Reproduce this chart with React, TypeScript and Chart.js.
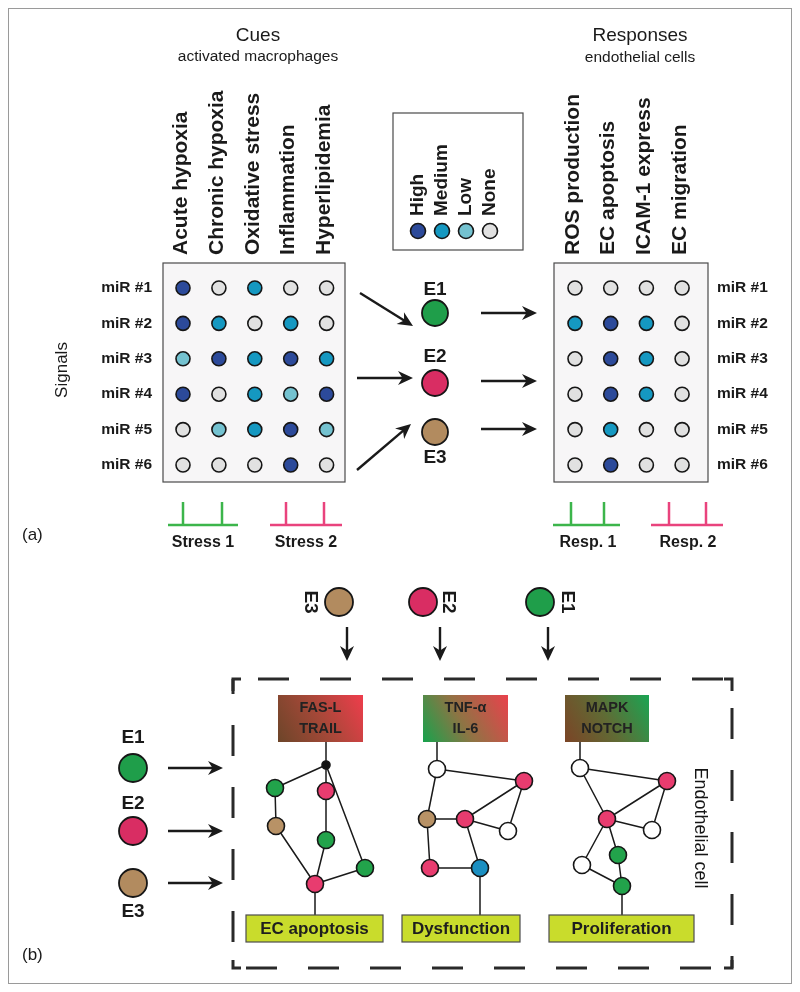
import React, { useEffect, useRef } from "react";
import { Chart, registerables } from "chart.js";

Chart.register(...registerables);

// ---------------- DATA ----------------
const cueLabels = ["Acute hypoxia", "Chronic hypoxia", "Oxidative stress", "Inflammation", "Hyperlipidemia"];
const responseLabels = ["ROS production", "EC apoptosis", "ICAM-1 express", "EC migration"];
const mirLabels = ["miR #1", "miR #2", "miR #3", "miR #4", "miR #5", "miR #6"];
const levelNames = ["High", "Medium", "Low", "None"];
const levelCodes = ["H", "M", "L", "N"];
// one string per miR row, one letter per column (H High, M Medium, L Low, N None)
const cueLevels = ["HNMNN", "HMNMN", "LHMHM", "HNMLH", "NLMHL", "NNNHN"];
const responseLevels = ["NNNN", "MHMN", "NHMN", "NHMN", "NMNN", "NHNN"];
const effectors = ["E1", "E2", "E3"];
const topEffectorOrder = ["E3", "E2", "E1"];
const stressGroups = ["Stress 1", "Stress 2"];
const responseGroups = ["Resp. 1", "Resp. 2"];
const pathwayLabels = [["FAS-L", "TRAIL"], ["TNF-α", "IL-6"], ["MAPK", "NOTCH"]];
const outcomeLabels = ["EC apoptosis", "Dysfunction", "Proliferation"];
// node kinds inside each network (E1/E2/E3 effector, w unaffected, k junction, b other)
const networkKinds = [
  ["k", "E1", "E2", "E3", "E1", "E1", "E2"],
  ["w", "E2", "E3", "E2", "w", "E2", "b"],
  ["w", "E2", "E2", "w", "E1", "w", "E1"],
];
const networkEdges = [
  [[0, 1], [0, 2], [0, 5], [1, 3], [3, 6], [2, 4], [4, 6], [6, 5]],
  [[0, 1], [0, 2], [2, 3], [3, 1], [1, 4], [3, 4], [2, 5], [5, 6], [3, 6]],
  [[0, 1], [0, 2], [2, 1], [1, 3], [2, 3], [2, 4], [2, 5], [5, 6], [4, 6]],
];

// ---------------- STYLE / LAYOUT ----------------
const W = 800;
const H = 992;
const FONT = '"Liberation Sans", Arial, Helvetica, sans-serif';
const levelColors = ["#2c4a9a", "#1598c1", "#74c2d0", "#e1e1e1"];
const effectorColors: Record<string, string> = { E1: "#1f9e4a", E2: "#d92d63", E3: "#b28b5f" };
const nodeColors: Record<string, string> = { E1: "#22a34b", E2: "#e83c6f", E3: "#b89266", w: "#ffffff", k: "#111111", b: "#1b8fc1" };
const GREEN = "#3cb54b";
const PINK = "#e9437d";

const LAYOUT = {
  cueX0: 183, cueDx: 35.9,
  respX0: 575, respDx: 35.7,
  rowY0: 288, rowDy: 35.4,
  cueBox: [163, 263, 345, 482],
  respBox: [554, 263, 708, 482],
  headerY: 255,
  legendBox: [393, 113, 523, 250],
  legendX0: 418, legendDx: 24, legendY: 231, legendTextY: 216,
  effA: [[435, 313, 290], [435, 383, 357], [435, 432, 458]],
  arrowsInA: [[360, 293, 413, 326], [357, 378, 413, 378], [357, 470, 411, 424]],
  arrowsOutA: [[481, 313, 537, 313], [481, 381, 537, 381], [481, 429, 537, 429]],
  brackets: [
    [168, 238, [183, 222], 203],
    [270, 342, [286, 324], 306],
    [553, 620, [571, 604], 588],
    [651, 723, [669, 706], 688],
  ],
  bracketY: 525, bracketTop: 502, bracketTextY: 543,
  effTop: [[339, 602, 310, 347], [423, 602, 448, 440], [540, 602, 567, 548]],
  effLeft: [[133, 768, 738], [133, 831, 804], [133, 883, 912]],
  dashBox: [233, 679, 732, 968],
  pathBoxes: [[278, 695, 363, 742], [423, 695, 508, 742], [565, 695, 649, 742]],
  outBoxes: [[246, 915, 383, 942], [402, 915, 520, 942], [549, 915, 694, 942]],
  netNodes: [
    [[326, 765], [275, 788], [326, 791], [276, 826], [326, 840], [365, 868], [315, 884]],
    [[437, 769], [524, 781], [427, 819], [465, 819], [508, 831], [430, 868], [480, 868]],
    [[580, 768], [667, 781], [607, 819], [652, 830], [618, 855], [582, 865], [622, 886]],
  ],
  netTop: [0, 0, 0],
  netBottom: [6, 6, 6],
};

const lvl = (c: string) => levelCodes.indexOf(c);

function gridAxis(axis: "x" | "y", first: number, step: number, extent: number, reverse = false) {
  return {
    type: "linear" as const,
    axis,
    display: false,
    bounds: "data" as const,
    reverse,
    min: -first / step,
    max: (extent - first) / step,
  };
}

function drawText(
  ctx: CanvasRenderingContext2D, s: string, x: number, y: number,
  font: string, align: CanvasTextAlign = "center", rot = 0, color = "#1a1a1a", baseline: CanvasTextBaseline = "middle"
) {
  ctx.save();
  ctx.translate(x, y);
  if (rot) ctx.rotate(rot);
  ctx.font = font;
  ctx.fillStyle = color;
  ctx.textAlign = align;
  ctx.textBaseline = baseline;
  ctx.fillText(s, 0, 0);
  ctx.restore();
}

function arrow(ctx: CanvasRenderingContext2D, x1: number, y1: number, x2: number, y2: number, lw = 2.4, hl = 15, hw = 7) {
  const dx = x2 - x1, dy = y2 - y1;
  const len = Math.hypot(dx, dy);
  const ux = dx / len, uy = dy / len;
  const px = -uy, py = ux;
  ctx.save();
  ctx.strokeStyle = "#1a1a1a";
  ctx.fillStyle = "#1a1a1a";
  ctx.lineWidth = lw;
  ctx.beginPath();
  ctx.moveTo(x1, y1);
  ctx.lineTo(x2 - ux * hl * 0.6, y2 - uy * hl * 0.6);
  ctx.stroke();
  ctx.beginPath();
  ctx.moveTo(x2, y2);
  ctx.lineTo(x2 - ux * hl + px * hw, y2 - uy * hl + py * hw);
  ctx.lineTo(x2 - ux * hl * 0.7, y2 - uy * hl * 0.7);
  ctx.lineTo(x2 - ux * hl - px * hw, y2 - uy * hl - py * hw);
  ctx.closePath();
  ctx.fill();
  ctx.restore();
}

const diagramPlugin = {
  id: "diagram",
  beforeDatasetsDraw(chart: any) {
    const ctx: CanvasRenderingContext2D = chart.ctx;
    const X = (v: number) => chart.scales.x.getPixelForValue(v);
    const Y = (v: number) => chart.scales.y.getPixelForValue(v);
    const L = LAYOUT;
    ctx.save();

    // outer frame
    ctx.strokeStyle = "#9a9a9a";
    ctx.lineWidth = 1;
    ctx.strokeRect(X(8) + 0.5, Y(8) + 0.5, X(792) - X(8) - 1, Y(984) - Y(8) - 1);

    // matrix boxes
    for (const b of [L.cueBox, L.respBox]) {
      ctx.fillStyle = "#f7f6f7";
      ctx.fillRect(X(b[0]), Y(b[1]), X(b[2]) - X(b[0]), Y(b[3]) - Y(b[1]));
      ctx.strokeStyle = "#4a4a4a";
      ctx.lineWidth = 1.2;
      ctx.strokeRect(X(b[0]), Y(b[1]), X(b[2]) - X(b[0]), Y(b[3]) - Y(b[1]));
    }
    // legend box
    {
      const b = L.legendBox;
      ctx.fillStyle = "#ffffff";
      ctx.fillRect(X(b[0]), Y(b[1]), X(b[2]) - X(b[0]), Y(b[3]) - Y(b[1]));
      ctx.strokeStyle = "#4a4a4a";
      ctx.lineWidth = 1.2;
      ctx.strokeRect(X(b[0]), Y(b[1]), X(b[2]) - X(b[0]), Y(b[3]) - Y(b[1]));
    }

    // arrows part a
    for (const a of L.arrowsInA) arrow(ctx, X(a[0]), Y(a[1]), X(a[2]), Y(a[3]));
    for (const a of L.arrowsOutA) arrow(ctx, X(a[0]), Y(a[1]), X(a[2]), Y(a[3]));

    // brackets
    L.brackets.forEach((br: any, i: number) => {
      ctx.strokeStyle = i % 2 === 0 ? GREEN : PINK;
      ctx.lineWidth = 2.5;
      ctx.beginPath();
      ctx.moveTo(X(br[0]), Y(L.bracketY));
      ctx.lineTo(X(br[1]), Y(L.bracketY));
      for (const t of br[2]) {
        ctx.moveTo(X(t), Y(L.bracketY));
        ctx.lineTo(X(t), Y(L.bracketTop));
      }
      ctx.stroke();
    });

    // part b arrows
    for (const e of L.effTop) arrow(ctx, X(e[3]), Y(627), X(e[3]), Y(661));
    for (const e of L.effLeft) arrow(ctx, X(168), Y(e[1]), X(223), Y(e[1]));

    // dashed cell box
    {
      const [x0, y0, x1, y1] = L.dashBox;
      ctx.strokeStyle = "#2a2a2a";
      ctx.lineWidth = 3;
      const side = (ax: number, ay: number, bx: number, by: number, off: number) => {
        ctx.save();
        ctx.setLineDash([31, 31]);
        ctx.lineDashOffset = off;
        ctx.beginPath();
        ctx.moveTo(X(ax), Y(ay));
        ctx.lineTo(X(bx), Y(by));
        ctx.stroke();
        ctx.restore();
      };
      side(x0, y0, x1, y0, 37);
      side(x0, y0, x0, y1, 16);
      side(x1, y0, x1, y1, 33);
      side(x0, y1, x1, y1, 49);
      // corners
      ctx.beginPath();
      const c = 8;
      ctx.moveTo(X(x0 + c), Y(y0)); ctx.lineTo(X(x0), Y(y0)); ctx.lineTo(X(x0), Y(y0 + c + 4));
      ctx.moveTo(X(x1 - c), Y(y0)); ctx.lineTo(X(x1), Y(y0)); ctx.lineTo(X(x1), Y(y0 + c + 4));
      ctx.moveTo(X(x0), Y(y1 - c)); ctx.lineTo(X(x0), Y(y1)); ctx.lineTo(X(x0 + c), Y(y1));
      ctx.moveTo(X(x1), Y(y1 - c)); ctx.lineTo(X(x1), Y(y1)); ctx.lineTo(X(x1 - c), Y(y1));
      ctx.stroke();
    }

    // pathway gradient boxes
    const grads = [
      [[0, "#6c4529"], [0.5, "#a64838"], [1, "#ef3d4c"]],
      [[0, "#17a24c"], [0.45, "#8e7444"], [1, "#ea414c"]],
      [[0, "#7b4426"], [0.5, "#5f6c35"], [1, "#1aa553"]],
    ];
    L.pathBoxes.forEach((b: number[], i: number) => {
      const g = ctx.createLinearGradient(X(b[0]), Y(b[3]), X(b[2]), Y(b[1]));
      for (const [o, c] of grads[i] as any) g.addColorStop(o, c);
      ctx.fillStyle = g;
      ctx.fillRect(X(b[0]), Y(b[1]), X(b[2]) - X(b[0]), Y(b[3]) - Y(b[1]));
    });

    // network edges
    ctx.strokeStyle = "#1a1a1a";
    ctx.lineWidth = 1.5;
    L.netNodes.forEach((nodes: number[][], i: number) => {
      ctx.beginPath();
      for (const [a, b] of networkEdges[i]) {
        ctx.moveTo(X(nodes[a][0]), Y(nodes[a][1]));
        ctx.lineTo(X(nodes[b][0]), Y(nodes[b][1]));
      }
      const t = nodes[L.netTop[i]];
      ctx.moveTo(X(t[0]), Y(L.pathBoxes[i][3]));
      ctx.lineTo(X(t[0]), Y(t[1]));
      const bt = nodes[L.netBottom[i]];
      ctx.moveTo(X(bt[0]), Y(bt[1]));
      ctx.lineTo(X(bt[0]), Y(L.outBoxes[i][1]));
      ctx.stroke();
    });

    // outcome boxes
    L.outBoxes.forEach((b: number[]) => {
      ctx.fillStyle = "#c9dc2c";
      ctx.fillRect(X(b[0]), Y(b[1]), X(b[2]) - X(b[0]), Y(b[3]) - Y(b[1]));
      ctx.strokeStyle = "#4d4d4d";
      ctx.lineWidth = 1.2;
      ctx.strokeRect(X(b[0]), Y(b[1]), X(b[2]) - X(b[0]), Y(b[3]) - Y(b[1]));
    });

    ctx.restore();
  },
  afterDatasetsDraw(chart: any) {
    const ctx: CanvasRenderingContext2D = chart.ctx;
    const X = (v: number) => chart.scales.x.getPixelForValue(v);
    const Y = (v: number) => chart.scales.y.getPixelForValue(v);
    const xCue = chart.scales.xCue, xResp = chart.scales.xResp, yMir = chart.scales.yMir, xLeg = chart.scales.xLeg;
    const L = LAYOUT;
    const up = -Math.PI / 2;
    const down = Math.PI / 2;

    drawText(ctx, "Cues", X(258), Y(36), `19px ${FONT}`);
    drawText(ctx, "activated macrophages", X(258), Y(57), `15.5px ${FONT}`);
    drawText(ctx, "Responses", X(640), Y(36), `19px ${FONT}`);
    drawText(ctx, "endothelial cells", X(640), Y(58), `15.5px ${FONT}`);

    cueLabels.forEach((s, i) => drawText(ctx, s, xCue.getPixelForValue(i) - 2, Y(L.headerY), `bold 21px ${FONT}`, "left", up));
    responseLabels.forEach((s, i) => drawText(ctx, s, xResp.getPixelForValue(i) - 2, Y(L.headerY), `bold 21px ${FONT}`, "left", up));
    levelNames.forEach((s, i) => drawText(ctx, s, xLeg.getPixelForValue(i), Y(L.legendTextY), `bold 19px ${FONT}`, "left", up));

    mirLabels.forEach((s, r) => {
      drawText(ctx, s, X(152), yMir.getPixelForValue(r), `bold 15.5px ${FONT}`, "right");
      drawText(ctx, s, X(717), yMir.getPixelForValue(r), `bold 15.5px ${FONT}`, "left");
    });
    drawText(ctx, "Signals", X(62), Y(370), `17px ${FONT}`, "center", up);

    effectors.forEach((e, i) => drawText(ctx, e, X(L.effA[i][0]), Y(L.effA[i][2]), `bold 19px ${FONT}`));

    const groups = [...stressGroups, ...responseGroups];
    L.brackets.forEach((br: any, i: number) => drawText(ctx, groups[i], X(br[3]), Y(L.bracketTextY), `bold 16px ${FONT}`));

    drawText(ctx, "(a)", X(22), Y(535), `17px ${FONT}`, "left");
    drawText(ctx, "(b)", X(22), Y(955), `17px ${FONT}`, "left");

    topEffectorOrder.forEach((e, i) => drawText(ctx, e, X(L.effTop[i][2]), Y(L.effTop[i][1]), `bold 19px ${FONT}`, "center", down));
    effectors.forEach((e, i) => drawText(ctx, e, X(L.effLeft[i][0]), Y(L.effLeft[i][2]), `bold 19px ${FONT}`));

    L.pathBoxes.forEach((b: number[], i: number) => {
      const cx = (X(b[0]) + X(b[2])) / 2;
      drawText(ctx, pathwayLabels[i][0], cx, Y(b[1] + 13), `bold 14.5px ${FONT}`, "center", 0, "#222222");
      drawText(ctx, pathwayLabels[i][1], cx, Y(b[1] + 34), `bold 14.5px ${FONT}`, "center", 0, "#222222");
    });
    L.outBoxes.forEach((b: number[], i: number) => {
      drawText(ctx, outcomeLabels[i], (X(b[0]) + X(b[2])) / 2, (Y(b[1]) + Y(b[3])) / 2 + 1, `bold 17px ${FONT}`, "center", 0, "#1e1e1e");
    });
    drawText(ctx, "Endothelial cell", X(700), Y(828), `18px ${FONT}`, "center", down, "#151515");
  },
};

export default function App() {
  const ref = useRef<HTMLCanvasElement | null>(null);
  useEffect(() => {
    if (!ref.current) return;
    const L = LAYOUT;
    const cuePts: any[] = [], cueCols: string[] = [];
    cueLevels.forEach((row, r) => row.split("").forEach((c, i) => { cuePts.push({ x: i, y: r }); cueCols.push(levelColors[lvl(c)]); }));
    const respPts: any[] = [], respCols: string[] = [];
    responseLevels.forEach((row, r) => row.split("").forEach((c, i) => { respPts.push({ x: i, y: r }); respCols.push(levelColors[lvl(c)]); }));

    const effPts: any[] = [], effCols: string[] = [], effR: number[] = [];
    effectors.forEach((e, i) => { effPts.push({ x: L.effA[i][0], y: L.effA[i][1] }); effCols.push(effectorColors[e]); effR.push(13); });
    topEffectorOrder.forEach((e, i) => { effPts.push({ x: L.effTop[i][0], y: L.effTop[i][1] }); effCols.push(effectorColors[e]); effR.push(14); });
    effectors.forEach((e, i) => { effPts.push({ x: L.effLeft[i][0], y: L.effLeft[i][1] }); effCols.push(effectorColors[e]); effR.push(14); });

    const netPts: any[] = [], netCols: string[] = [], netR: number[] = [];
    networkKinds.forEach((kinds, n) => kinds.forEach((k, j) => {
      netPts.push({ x: L.netNodes[n][j][0], y: L.netNodes[n][j][1] });
      netCols.push(nodeColors[k]);
      netR.push(k === "k" ? 4 : 8.5);
    }));

    const common = { type: "scatter" as const, clip: false as any, pointBorderColor: "#161616", pointHoverRadius: 0 };
    const chart = new Chart(ref.current, {
      type: "scatter",
      data: {
        datasets: [
          { ...common, label: "cues", xAxisID: "xCue", yAxisID: "yMir", data: cuePts, pointBackgroundColor: cueCols, pointRadius: 7, pointBorderWidth: 1.6 },
          { ...common, label: "responses", xAxisID: "xResp", yAxisID: "yMir", data: respPts, pointBackgroundColor: respCols, pointRadius: 7, pointBorderWidth: 1.6 },
          { ...common, label: "legend", xAxisID: "xLeg", yAxisID: "y", data: levelNames.map((_, i) => ({ x: i, y: L.legendY })), pointBackgroundColor: levelColors, pointRadius: 7.5, pointBorderWidth: 1.6 },
          { ...common, label: "effectors", xAxisID: "x", yAxisID: "y", data: effPts, pointBackgroundColor: effCols, pointRadius: effR, pointBorderWidth: 1.8 },
          { ...common, label: "network", xAxisID: "x", yAxisID: "y", data: netPts, pointBackgroundColor: netCols, pointRadius: netR, pointBorderWidth: 1.6 },
        ],
      },
      options: {
        animation: false,
        responsive: false,
        devicePixelRatio: 1,
        events: [],
        layout: { padding: 0, autoPadding: false },
        plugins: { legend: { display: false }, tooltip: { enabled: false } },
        scales: {
          x: { type: "linear", display: false, bounds: "data", min: 0, max: W },
          y: { type: "linear", display: false, bounds: "data", min: 0, max: H, reverse: true },
          xCue: gridAxis("x", L.cueX0, L.cueDx, W),
          xResp: gridAxis("x", L.respX0, L.respDx, W),
          xLeg: gridAxis("x", L.legendX0, L.legendDx, W),
          yMir: gridAxis("y", L.rowY0, L.rowDy, H, true),
        } as any,
      },
      plugins: [diagramPlugin as any],
    });
    return () => chart.destroy();
  }, []);
  return (
    <div style={{ position: "absolute", left: 0, top: 0, width: W, height: H, background: "#fff" }}>
      <canvas ref={ref} width={W} height={H} style={{ display: "block", width: W, height: H }} />
    </div>
  );
}
